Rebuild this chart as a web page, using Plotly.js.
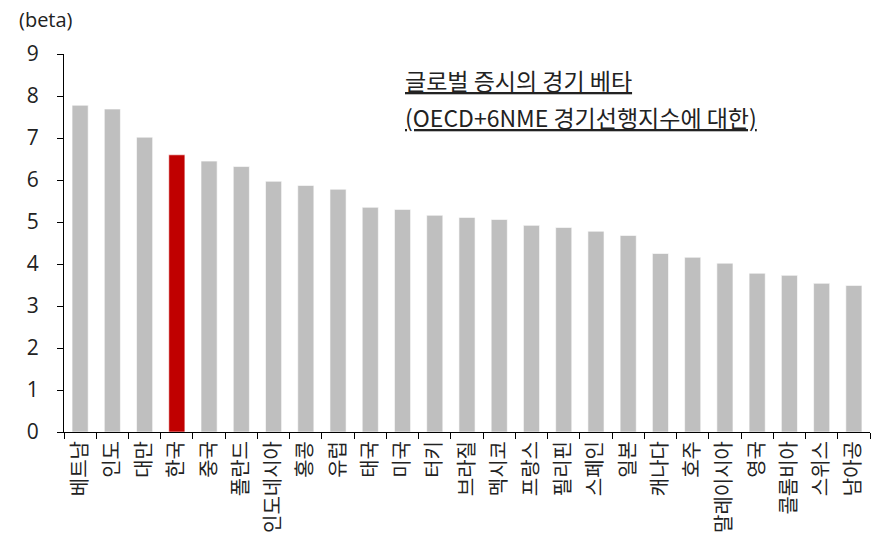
<!DOCTYPE html>
<html>
<head>
<meta charset="utf-8">
<script src="https://cdn.plot.ly/plotly-3.0.1.min.js"></script>
<style>html,body{margin:0;padding:0;background:#fff;}#chart{width:878px;height:551px;}</style>
</head>
<body>
<div id="chart"></div>
<script>
const countries = ["베트남","인도","대만","한국","중국","폴란드","인도네시아","홍콩","유럽","태국","미국","터키","브라질","멕시코","프랑스","필리핀","스페인","일본","캐나다","호주","말레이시아","영국","콜롬비아","스위스","남아공"];
const betaValues = [7.78,7.69,7.02,6.60,6.45,6.32,5.97,5.87,5.78,5.35,5.30,5.16,5.11,5.06,4.92,4.87,4.78,4.68,4.25,4.16,4.02,3.78,3.73,3.54,3.49];
const highlight = "한국";
const yTicks = [0,1,2,3,4,5,6,7,8,9];
const titleLine1 = "글로벌 증시의 경기 베타";
const titleLine2 = "(OECD+6NME 경기선행지수에 대한)";
const unitLabel = "(beta)";

const FONT = "'Open Sans', 'Noto Sans CJK KR', sans-serif";
const KFONT = "'Noto Sans CJK KR', sans-serif";
const colors = countries.map(c => c === highlight ? "#C00000" : "#BFBFBF");

const trace = {
  type: "bar",
  x: countries,
  y: betaValues,
  marker: {color: colors, line: {color: "rgba(255,255,255,0.6)", width: 1}},
  hoverinfo: "x+y"
};

const layout = {
  width: 878, height: 551,
  margin: {l: 64, r: 8, t: 54, b: 119},
  paper_bgcolor: "#fff", plot_bgcolor: "#fff",
  showlegend: false,
  bargap: 0.5,
  font: {family: FONT, color: "#222"},
  xaxis: {
    type: "category",
    showline: true, linecolor: "#000", linewidth: 1,
    ticks: "outside", ticklen: 6, tickcolor: "#000", tickwidth: 1,
    tickson: "boundaries",
    tickangle: -90,
    tickfont: {family: KFONT, size: 20, color: "#222"},
    showgrid: false, zeroline: false, fixedrange: true
  },
  yaxis: {
    range: [0, 9],
    tickvals: yTicks,
    showline: true, linecolor: "#000", linewidth: 1,
    ticks: "outside", ticklen: 6, tickcolor: "#000", tickwidth: 1,
    ticklabelstandoff: 14,
    tickfont: {family: FONT, size: 21, color: "#222"},
    showgrid: false, zeroline: false, fixedrange: true
  },
  annotations: [
    {text: unitLabel, xref: "paper", yref: "paper", x: -0.058, y: 1.0, xanchor: "left", yanchor: "middle",
     yshift: 35, showarrow: false, font: {family: FONT, size: 20, color: "#222"}},
    {text: "<u>" + titleLine1 + "</u>", xref: "paper", yref: "paper", x: 0.42, y: 1.0, xanchor: "left", yanchor: "middle",
     yshift: -26, showarrow: false, font: {family: KFONT, size: 23, color: "#222"}},
    {text: "<u>" + titleLine2 + "</u>", xref: "paper", yref: "paper", x: 0.42, y: 1.0, xanchor: "left", yanchor: "middle",
     yshift: -63, showarrow: false, font: {family: KFONT, size: 23, color: "#222"}}
  ]
};

Plotly.newPlot("chart", [trace], layout, {displayModeBar: false, staticPlot: true});
</script>
</body>
</html>
